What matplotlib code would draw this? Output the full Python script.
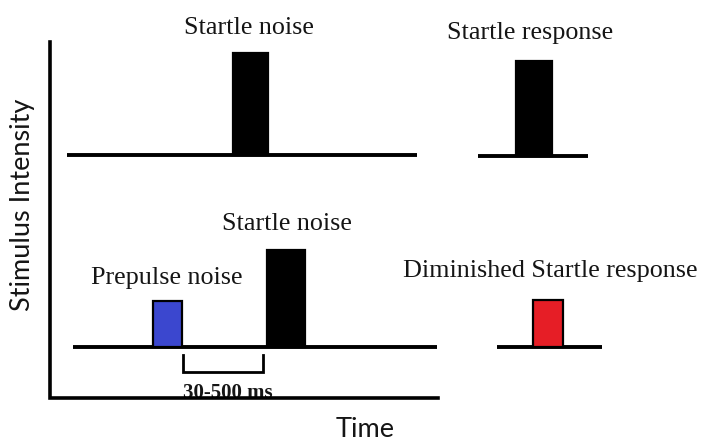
import matplotlib.pyplot as plt
from matplotlib.patches import Rectangle

# Schematic of prepulse inhibition (in image units)

# baselines of each trace: start, end, resting level
trace_start = [67, 478, 73, 497]
trace_end = [417, 588, 437, 602]
trace_level = [155, 156, 347, 347]

# pulses: onset, offset, peak level, which trace, fill colour
pulse_onset = [233, 516, 153, 267, 533]
pulse_offset = [268, 552, 182, 305, 563]
pulse_peak = [53, 61, 301, 250, 300]
pulse_trace = [0, 1, 2, 2, 3]
pulse_color = ["black", "black", "#3b47cf", "black", "#e61e26"]

# text labels above the pulses
labels = ["Startle noise", "Startle response", "Startle noise",
          "Prepulse noise", "Diminished Startle response"]
label_x = [249, 530, 287, 167, 550]
label_y = [28, 33, 224, 278, 271]

# interval between prepulse and startle noise
interval_label = "30-500 ms"
interval_start = 183
interval_end = 263
interval_top = 355
interval_bottom = 372

# outer axes of the schematic
axis_left = 50
axis_top = 42
axis_bottom = 398
axis_right = 438

fig = plt.figure(figsize=(7.04, 4.41), dpi=100)
ax = fig.add_axes([0, 0, 1, 1])
ax.set_xlim(0, 704)
ax.set_ylim(441, 0)
ax.axis("off")

serif = "Liberation Serif"
sans = "Lato"

# traces
for x0, x1, lvl in zip(trace_start, trace_end, trace_level):
    ax.plot([x0, x1], [lvl, lvl], color="black", lw=2.8,
            solid_capstyle="butt", zorder=2)

# pulses
for on, off, peak, t, c in zip(pulse_onset, pulse_offset, pulse_peak,
                               pulse_trace, pulse_color):
    base = trace_level[t]
    ax.add_patch(Rectangle((on, peak), off - on, base - peak,
                           facecolor=c, edgecolor="black", lw=1.6, zorder=3))

for txt, x, y in zip(labels, label_x, label_y):
    ax.text(x, y, txt, ha="center", va="center", fontsize=18.8,
            family=serif, color="#151515")

# interval bracket
ax.plot([interval_start, interval_start, interval_end, interval_end],
        [interval_top, interval_bottom, interval_bottom, interval_top],
        color="black", lw=2.0, solid_joinstyle="miter", zorder=2)
ax.text((interval_start + interval_end) / 2 + 5, axis_bottom, interval_label,
        ha="center", va="baseline", fontsize=15, fontweight="bold",
        family=serif, color="#151515", zorder=1)

# axes lines
ax.plot([axis_left, axis_left, axis_right],
        [axis_top, axis_bottom, axis_bottom],
        color="black", lw=2.6, solid_joinstyle="miter", zorder=4)

ax.text(23, 205, "Stimulus Intensity", rotation=90, ha="center", va="center",
        fontsize=19.5, family=sans, color="#151515")
ax.text(365, 437, "Time", ha="center", va="baseline", fontsize=19.5,
        family=sans, color="#151515")

fig.savefig("out.png", dpi=100)
